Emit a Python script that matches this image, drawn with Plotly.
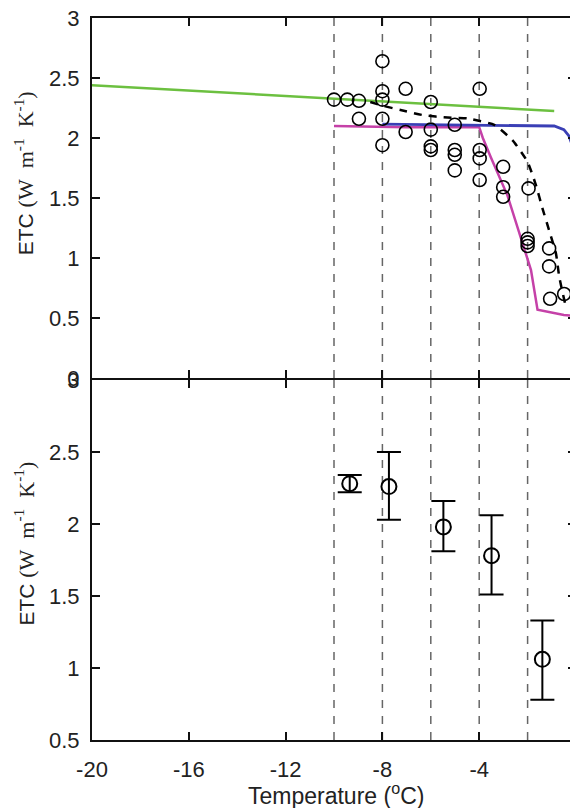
import plotly.graph_objects as go

# ---------------- data ----------------
# top panel: observed ETC points
obs_T = [-10.0, -9.45, -8.97, -8.97, -8.0, -8.0, -8.0, -8.0, -8.0, -7.04, -7.04,
         -6.0, -6.0, -6.0, -6.0, -5.01, -5.01, -5.01, -5.01, -3.98, -3.98, -3.98, -3.98,
         -3.01, -3.01, -3.01, -1.96, -2.0, -2.0, -2.0, -1.11, -1.11, -1.07, -0.49]
obs_ETC = [2.32, 2.32, 2.31, 2.16, 2.64, 2.39, 2.32, 2.16, 1.94, 2.41, 2.05,
           2.30, 2.07, 1.93, 1.90, 2.11, 1.90, 1.86, 1.73, 2.41, 1.90, 1.83, 1.65,
           1.76, 1.59, 1.51, 1.58, 1.16, 1.13, 1.10, 1.08, 0.93, 0.66, 0.70]

# model curves (top panel)
green_T = [-20.0, -0.9]
green_ETC = [2.44, 2.225]

blue_T = [-8.0, -4.0, -1.5, -0.9, -0.5, -0.3, -0.15, -0.05, 0.0]
blue_ETC = [2.115, 2.11, 2.105, 2.10, 2.07, 2.02, 1.94, 1.86, 1.82]

magenta_T = [-10.0, -7.0, -4.0, -3.85, -3.52, -2.83, -1.86, -1.59, -0.5, 0.0]
magenta_ETC = [2.10, 2.09, 2.09, 2.0, 1.84, 1.52, 0.90, 0.57, 0.525, 0.515]

dashed_T = [-8.5, -8.0, -7.25, -6.3, -5.3, -4.5, -4.28, -3.38, -2.62, -2.0,
            -1.66, -1.38, -1.11, -0.83, -0.69, -0.45]
dashed_ETC = [2.30, 2.27, 2.233, 2.19, 2.17, 2.165, 2.155, 2.11, 1.98, 1.80,
              1.61, 1.41, 1.23, 1.04, 0.84, 0.62]

# bottom panel: binned means with error bars
bin_T = [-9.35, -7.73, -5.48, -3.49, -1.39]
bin_ETC = [2.28, 2.26, 1.98, 1.78, 1.06]
bin_err_plus = [0.06, 0.24, 0.18, 0.28, 0.27]
bin_err_minus = [0.06, 0.23, 0.17, 0.27, 0.28]

# reference temperature lines
vline_T = [-10, -8, -6, -4, -2]

x_ticks = [-20, -16, -12, -8, -4, 0]
x_tick_labels = ["-20", "-16", "-12", "-8", "-4", "0"]
top_y_ticks = [0, 0.5, 1, 1.5, 2, 2.5, 3]
top_y_labels = ["0", "0.5", "1", "1.5", "2", "2.5", "3"]
bot_y_ticks = [0.5, 1, 1.5, 2, 2.5, 3]
bot_y_labels = ["0.5", "1", "1.5", "2", "2.5", "3"]

# ---------------- figure ----------------
FONT = "Liberation Sans, Arial, sans-serif"
fig = go.Figure()

# top panel traces (xaxis2 / yaxis2)
fig.add_trace(go.Scatter(x=magenta_T, y=magenta_ETC, mode="lines",
                         line=dict(color="#c541a8", width=2.5),
                         xaxis="x2", yaxis="y2", showlegend=False))
fig.add_trace(go.Scatter(x=green_T, y=green_ETC, mode="lines",
                         line=dict(color="#6cc040", width=2.5),
                         xaxis="x2", yaxis="y2", showlegend=False))
fig.add_trace(go.Scatter(x=blue_T, y=blue_ETC, mode="lines",
                         line=dict(color="#3a3fb5", width=2.8),
                         xaxis="x2", yaxis="y2", showlegend=False))
fig.add_trace(go.Scatter(x=dashed_T, y=dashed_ETC, mode="lines",
                         line=dict(color="black", width=2.5, dash="8px,7px", shape="spline", smoothing=0.5),
                         xaxis="x2", yaxis="y2", showlegend=False))
fig.add_trace(go.Scatter(x=obs_T, y=obs_ETC, mode="markers",
                         marker=dict(symbol="circle-open", size=13, color="black",
                                     line=dict(width=1.6, color="black")),
                         xaxis="x2", yaxis="y2", showlegend=False))

# bottom panel
fig.add_trace(go.Scatter(x=bin_T, y=bin_ETC, mode="markers",
                         marker=dict(symbol="circle-open", size=15, color="black",
                                     line=dict(width=2, color="black")),
                         error_y=dict(type="data", symmetric=False, array=bin_err_plus,
                                      arrayminus=bin_err_minus, color="black",
                                      thickness=2, width=12),
                         xaxis="x", yaxis="y", showlegend=False))

# dashed vertical reference lines in both panels
shapes = []
for xv in vline_T:
    for xr, yr in (("x", "y domain"), ("x2", "y2 domain")):
        shapes.append(dict(type="line", xref=xr, yref=yr, x0=xv, x1=xv, y0=0, y1=1,
                           line=dict(color="#666666", width=1.5, dash="8px,8px"),
                           layer="below"))

LW = 2
axis_common = dict(showline=True, linecolor="#111111", linewidth=LW, mirror="ticks",
                   ticks="inside", ticklen=8, tickwidth=1.8, tickcolor="#111111",
                   showgrid=False, zeroline=False, automargin=False,
                   ticklabeloverflow="allow",
                   tickfont=dict(family=FONT, size=22, color="#222222"))

ytitle = ("ETC <span style='font-family:Liberation Serif, Times New Roman, serif;"
          "font-size:22px'>(W&nbsp;&nbsp;m<sup>-1</sup>&nbsp;&nbsp;K<sup>-1</sup>)</span>")

FIG_W, FIG_H = 570, 800
M_T, M_B = 10, 68
PLOT_H = FIG_H - M_T - M_B
half_gap = (LW / 2) / PLOT_H

# the page body adds an 8 px offset, so the figure is smaller than the window
fig.update_layout(
    width=FIG_W, height=FIG_H,
    margin=dict(l=84, r=2, t=M_T, b=M_B),
    paper_bgcolor="white", plot_bgcolor="white",
    xaxis=dict(domain=[0, 1], range=[-20, 0], anchor="y",
               tickvals=x_ticks, ticktext=x_tick_labels, ticklabelstandoff=9,
               **axis_common),
    yaxis=dict(domain=[0, 0.5 - half_gap], range=[0.5, 3], anchor="x",
               tickvals=bot_y_ticks, ticktext=bot_y_labels, ticklabelstandoff=6,
               **axis_common),
    xaxis2=dict(domain=[0, 1], range=[-20, 0], anchor="y2", matches="x",
                tickvals=x_ticks, showticklabels=False, **axis_common),
    yaxis2=dict(domain=[0.5 + half_gap, 1], range=[0, 3], anchor="x2",
                tickvals=top_y_ticks, ticktext=top_y_labels, ticklabelstandoff=6,
                **axis_common),
    shapes=shapes,
    annotations=[
        dict(text=ytitle, xref="paper", yref="paper", x=-0.1405, y=0.785,
             xanchor="center", yanchor="middle", textangle=-90, showarrow=False,
             font=dict(family=FONT, size=21, color="#222222")),
        dict(text=ytitle, xref="paper", yref="paper", x=-0.1405, y=0.272,
             xanchor="center", yanchor="middle", textangle=-90, showarrow=False,
             font=dict(family=FONT, size=21, color="#222222")),
        dict(text="Temperature (<sup>o</sup>C)", xref="paper", yref="paper",
             x=0.505, y=-0.0745, xanchor="center", yanchor="middle", showarrow=False,
             font=dict(family=FONT, size=23, color="#222222")),
    ],
)

fig.write_html("out.html")
